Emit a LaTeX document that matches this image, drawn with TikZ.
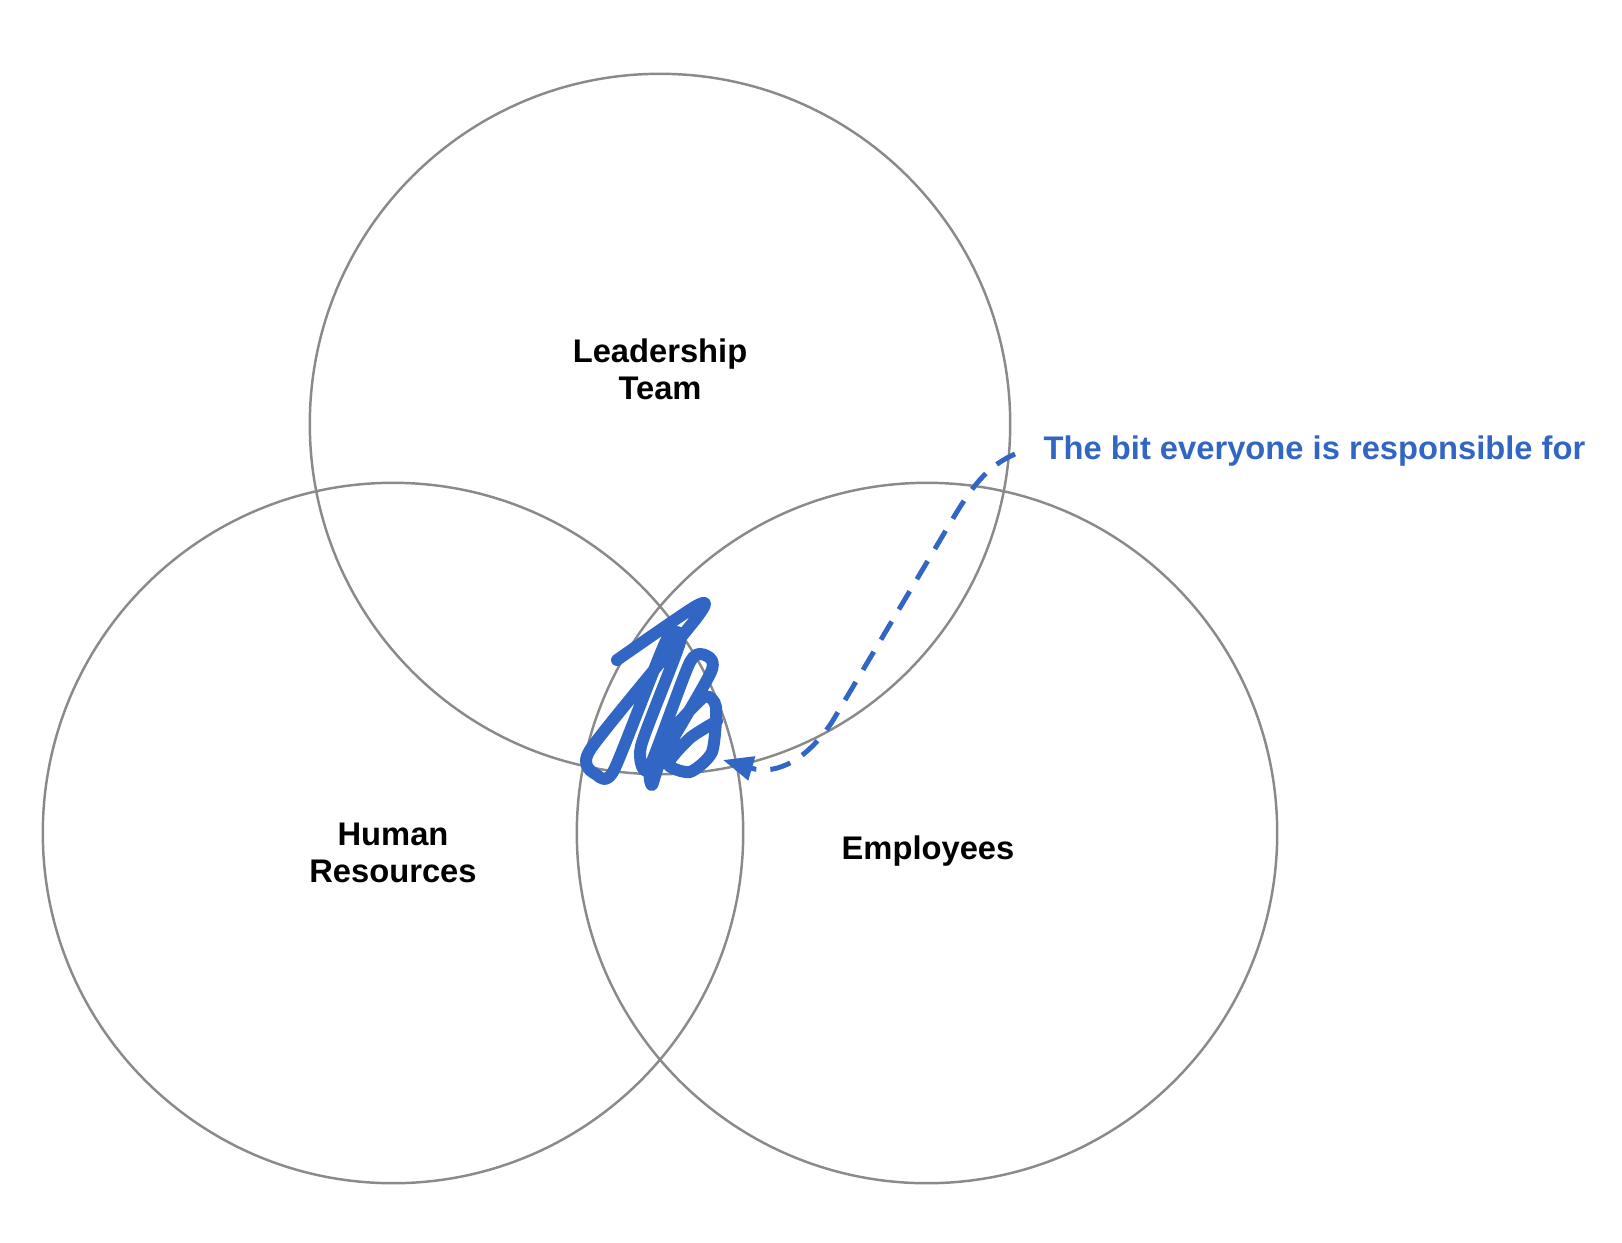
\documentclass[tikz,border=0pt]{standalone}
\usepackage{fontspec}
\setmainfont{Liberation Sans}
\usetikzlibrary{positioning,arrows.meta,calc}
\definecolor{inkblue}{RGB}{50,102,196}
\definecolor{ringgray}{RGB}{138,138,138}
\tikzset{
  venn/.style={circle,draw=ringgray,line width=0.7pt,minimum size=7cm,inner sep=0pt},
  grouplbl/.style={font=\bfseries\fontsize{9.3}{10.5}\selectfont,align=center,text=black},
  notelbl/.style={font=\bfseries\fontsize{9.3}{10.5}\selectfont,text=inkblue,anchor=west,inner sep=0pt},
  scribble/.style={inkblue,line width=3.4pt,line cap=round,line join=round},
  pointer/.style={inkblue,line width=1.4pt,dash pattern=on 6pt off 4pt,
    -{Triangle[length=3mm,width=2.4mm]}},
}
\begin{document}
\begin{tikzpicture}[x=0.01cm,y=-0.01cm]
  \useasboundingbox (0,0) rectangle (1622,1242);
  % ---- the three groups ----
  \node[venn] (lead) at (660,424) {};
  \node[venn] (hr) at (393,833) {};
  \node[venn] (emp) at (927,833) {};
  \node[grouplbl] (leadlbl) at (660,369) {Leadership\\Team};
  \node[grouplbl] (hrlbl) at (393,853) {Human\\Resources};
  \node[grouplbl] (emplbl) at (928,851) {Employees};
  % ---- scribble over the shared middle ----
  \draw[scribble] plot[smooth,tension=0.4] coordinates {
    (617,660) (696,606) (698,616) (590,750) (597,775) (614,770) (666,641)
    (680,642) (641,746) (649,768) (690,662) (707,656) (711,672) (662,758)
    (652,785) (650,768) (668,735) (704,697) (716,707) (712,752) (690,772)
    (668,764) (690,738) (717,721)};
  % ---- note and pointer ----
  \node[notelbl] (note) at (1043,451) {The bit everyone is responsible for};
  \coordinate (tip) at (723,760);
  \draw[pointer] ($(note.west)+(-28,3)$) .. controls (990,465) and (975,482) .. (955,515)
    -- (832,722) .. controls (808,758) and (778,776) .. (tip);
\end{tikzpicture}
\end{document}
